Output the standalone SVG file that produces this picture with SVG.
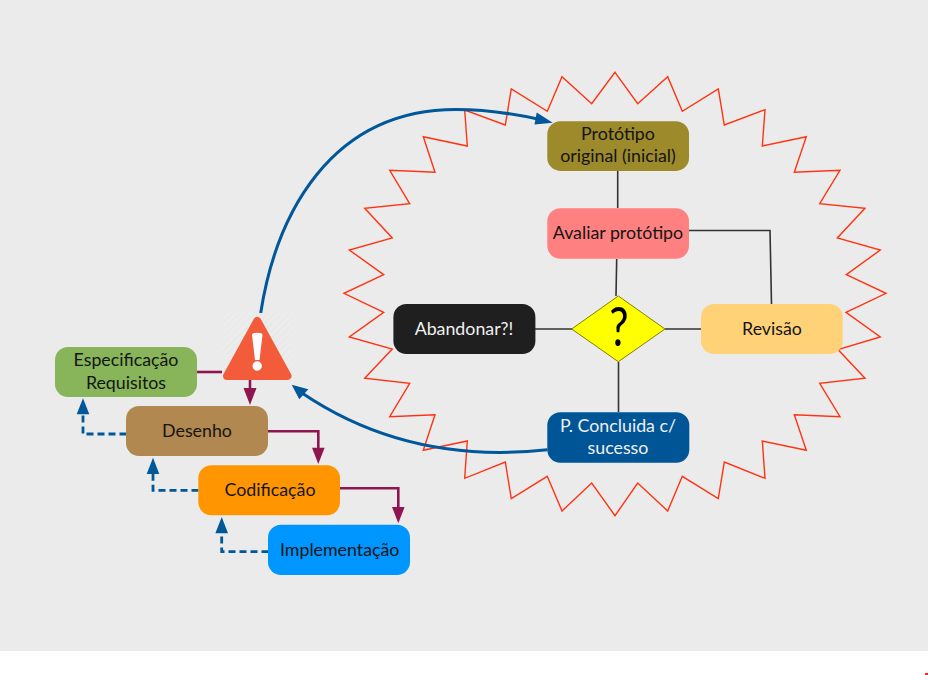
<svg xmlns="http://www.w3.org/2000/svg" width="928" height="675" viewBox="0 0 928 675">
<style>
.n{stroke:none}
.t{font-family:"Lato","Open Sans","Liberation Sans",sans-serif;font-size:17.8px;text-anchor:middle;fill:#141414}
.w{fill:#f0f0f0}
.k{fill:none;stroke:#333;stroke-width:1.6}
.m{fill:none;stroke:#8f1550;stroke-width:2.6;stroke-linejoin:miter}
.b{fill:none;stroke:#00579a;stroke-width:3}
.d{fill:none;stroke:#00579a;stroke-width:2.8;stroke-dasharray:7 4}
</style>
<defs>
<pattern id="h" width="5" height="5" patternUnits="userSpaceOnUse" patternTransform="rotate(-45)">
<rect width="5" height="5" fill="#ececec"/><rect width="5" height="2" fill="#e9e9e9"/>
</pattern>
</defs>
<rect x="0" y="0" width="928" height="651" fill="#ebebeb"/>
<rect x="925" y="673" width="3" height="2" fill="#ff2020"/>
<polygon id="burst" fill="none" stroke="#ff3311" stroke-width="1.4" points="615,72.3 637.7,103.7 667.7,76.7 682.3,111.3 718.3,89 724.3,125 765,109.7 762.3,146 806.3,136.7 794.3,172.3 840,170.3 819.7,203.7 865,208.3 837.3,238 880.3,250 846.3,274.7 886,293.3 846,312.3 880.3,337 838,349.5 865,378.3 819.7,383.3 840,416.7 794.3,414.7 806.3,450.3 762.3,441 765,478.3 724.3,462 718.3,498.7 682.3,476.3 667.7,511 637.7,483 615,515.7 591.7,483 562,511 547.3,476.3 511.3,498.7 505.3,462 464.7,478.3 467.3,441 423.3,450.3 435,414.7 389.7,416.7 409.7,383.3 364.7,378.3 392.3,349 349.3,337 383.7,312.3 344,293.3 383.7,274.7 349.3,250 392.3,238 364.7,208.3 409.7,203.7 389.7,170.3 435,172.3 423.3,136.7 467.3,146 464.7,110 505.3,125 511.3,89 547.3,111.3 562,76.7 591.7,103.7"/>
<g id="connectors">
<path class="k" d="M617.7 171V208"/>
<path class="k" d="M616.7 259L616 296"/>
<path class="k" d="M689 230.5H770L771.5 304"/>
<path class="k" d="M535 329H572"/>
<path class="k" d="M665 329H701"/>
<path class="k" d="M618.5 362V412"/>
<path class="m" d="M197 372H222"/>
<path class="m" d="M250 379V389"/>
<polygon fill="#8f1550" points="243.5,388 256.5,388 250,405"/>
<path class="m" d="M267.5 431.3H318.3V449"/>
<polygon fill="#8f1550" points="312,447.7 324.6,447.7 318.3,464"/>
<path class="m" d="M340 488.3H398.3V508"/>
<polygon fill="#8f1550" points="392,507 404.6,507 398.3,523.3"/>
<path class="d" d="M126.5 434H83V414"/>
<polygon fill="#00579a" points="76.7,414.3 89.3,414.3 83,398.3"/>
<path class="d" d="M198.5 490.3H153V474"/>
<polygon fill="#00579a" points="146.7,474 159.3,474 153,457.7"/>
<path class="d" d="M268.5 551.7H221.7V533"/>
<polygon fill="#00579a" points="215.4,533.3 228,533.3 221.7,517"/>
<path class="b" d="M260.7 313C276 215 330 109.5 456 109.5C487 109.5 515 114 540 119.5"/>
<polygon fill="#00579a" points="552.7,122.7 534.5,124.5 536.7,112.5"/>
<path class="b" d="M547.3 449.7C490 456 395 456 302 393"/>
<polygon fill="#00579a" points="291.7,384.7 308.3,389.3 299.3,399.3"/>
</g>
<g id="warning">
<rect x="222.5" y="313" width="69.5" height="66" fill="url(#h)"/>
<path d="M257.3 321L287.5 376H227Z" fill="#f25c3b" stroke="#f25c3b" stroke-width="8" stroke-linejoin="round"/>
<path d="M252 335Q252 332.7 257.3 332.7T262.5 335L259.5 360H255Z" fill="#fff"/>
<circle cx="257.2" cy="366" r="4.7" fill="#fff"/>
</g>
<g id="prototipo-original"><rect class="n" x="547.3" y="121.3" width="141.7" height="49.6" rx="13" fill="#9c8a2b"/><text class="t" x="618" y="140">Protótipo</text><text class="t" x="618" y="162">original (inicial)</text></g>
<g id="avaliar"><rect class="n" x="547.3" y="208.3" width="141.7" height="50.4" rx="13" fill="#ff8080"/><text class="t" x="618" y="239">Avaliar protótipo</text></g>
<g id="abandonar"><rect class="n" x="393.4" y="304" width="142" height="50" rx="13" fill="#1f1f1f"/><text class="t w" x="464" y="335">Abandonar?!</text></g>
<g id="decisao"><polygon points="618.3,296 665,329 618.3,361.7 571.7,329" fill="#ffff00" stroke="#808000" stroke-width="1"/><text transform="translate(619 346) scale(.8 1)" font-family="Lato,sans-serif" font-size="54" text-anchor="middle" fill="#000">?</text></g>
<g id="revisao"><rect class="n" x="701" y="304" width="141.7" height="50" rx="13" fill="#ffd278"/><text class="t" x="772" y="335">Revisão</text></g>
<g id="concluida"><rect class="n" x="547.3" y="412.3" width="142" height="50.4" rx="13" fill="#005596"/><text class="t w" x="618" y="432">P. Concluida c/</text><text class="t w" x="618" y="454">sucesso</text></g>
<g id="especificacao"><rect class="n" x="55" y="347" width="142" height="50" rx="13" fill="#88b45a"/><text class="t" x="126" y="366">Especificação</text><text class="t" x="126" y="389">Requisitos</text></g>
<g id="desenho"><rect class="n" x="126" y="406" width="142" height="50" rx="13" fill="#b08850"/><text class="t" x="197" y="437">Desenho</text></g>
<g id="codificacao"><rect class="n" x="198.3" y="465.3" width="141.7" height="50" rx="13" fill="#ff9500"/><text class="t" x="270" y="496">Codificação</text></g>
<g id="implementacao"><rect class="n" x="268" y="524.7" width="142" height="50.3" rx="13" fill="#0096ff"/><text class="t" x="339.7" y="556">Implementação</text></g>
</svg>
